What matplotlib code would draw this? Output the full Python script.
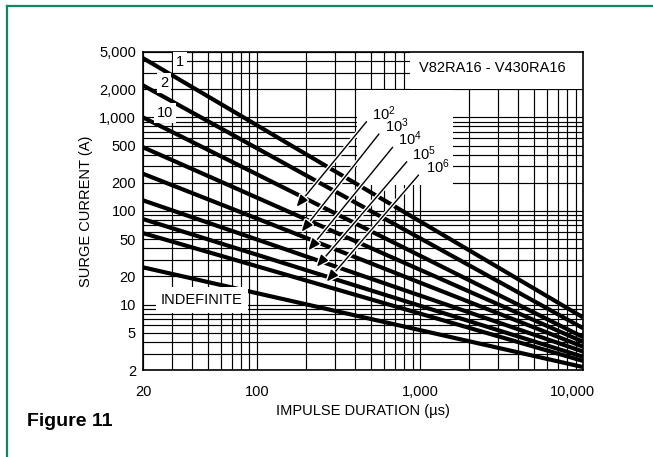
import numpy as np
import matplotlib
matplotlib.use("Agg")
import matplotlib.pyplot as plt
import matplotlib.patheffects as pe
from matplotlib.patches import Rectangle
from matplotlib.lines import Line2D
from matplotlib.ticker import LogLocator, NullFormatter
from matplotlib.transforms import ScaledTranslation

plt.rcParams.update({"font.family": ["Liberation Sans", "DejaVu Sans"], "font.size": 10.5,
                     "mathtext.default": "regular"})

# pulse rating curves (straight on log-log): current at 20 us and at 10,000 us
CURVES = ["1", "2", "10", "10^2", "10^3", "10^4", "10^5", "10^6", "INDEFINITE"]
T_US = [20, 10000]
I_START = [4300, 2200, 1000, 480, 250, 130, 82, 58, 25]
I_END = [7.3, 5.6, 4.5, 4.0, 3.55, 3.15, 2.77, 2.5, 2.15]
XTICKS = [20, 100, 1000, 10000]
XLABELS = ["20", "100", "1,000", "10,000"]
YTICKS = [2, 5, 10, 20, 50, 100, 200, 500, 1000, 2000, 5000]
YLABELS = ["2", "5", "10", "20", "50", "100", "200", "500", "1,000", "2,000", "5,000"]

W, H = 653, 457
fig = plt.figure(figsize=(W/100, H/100), dpi=100)
ax = fig.add_axes([143/W, 1-370/H, 440/W, 318/H])
ax.set_xscale("log"); ax.set_yscale("log")
ax.set_xlim(20, 10000); ax.set_ylim(2, 5000)
ax.set_xticks(XTICKS, XLABELS); ax.set_yticks(YTICKS, YLABELS)
for a in (ax.xaxis, ax.yaxis):
    a.set_minor_locator(LogLocator(base=10, subs=np.arange(2, 10), numticks=100))
    a.set_minor_formatter(NullFormatter())
ax.tick_params(which="both", length=0)
ax.tick_params(axis="x", pad=11)
ax.tick_params(axis="y", pad=5)
ax.set_axisbelow(True)
ax.grid(True, which="both", color="black", lw=0.85)
for sp in ax.spines.values(): sp.set_linewidth(1.2)
lbl = ax.get_xticklabels()[-1]
lbl.set_transform(lbl.get_transform() + ScaledTranslation(-11/100, 0, fig.dpi_scale_trans))

# white label panels that cut the grid
ax.add_patch(Rectangle((0.486, 0.582), 0.219, 0.298, transform=ax.transAxes, fc="white", ec="none", zorder=1))
ax.add_patch(Rectangle((0.607, 0.884), 0.393, 0.116, transform=ax.transAxes, fc="white", ec="none", zorder=1))

for name, a, b in zip(CURVES, I_START, I_END):
    ax.plot(T_US, [a, b], color="black", lw=3, solid_capstyle="butt", zorder=2)

box = dict(fc="white", ec="none", pad=2)
ax.text(33.7, 3900, "1", ha="center", va="center", bbox=box, zorder=4)
ax.text(26.9, 2330, "2", ha="center", va="center", bbox=box, zorder=4)
ax.text(27.3, 1110, "10", ha="center", va="center", bbox=box, zorder=4)
ax.text(46, 11.2, "INDEFINITE", ha="center", va="center", bbox=dict(fc="white", ec="none", pad=4), zorder=4)
ax.text(2767, 3366, "V82RA16 - V430RA16", ha="center", va="center", zorder=4)

# cycle labels with arrows
labs = [(506, 938), (611, 703), (737, 507), (890, 350), (1090, 253)]
tails = [(470, 900), (560, 665), (680, 480), (830, 336), (980, 242)]
heads = [(175, 111), (188, 60), (207, 38), (233, 25.4), (268, 17.6)]
for name, lp, tp, hp in zip(CURVES[3:8], labs, tails, heads):
    ax.text(lp[0], lp[1], "$" + name + "$", ha="left", va="baseline", zorder=4)
    ax.annotate("", xy=hp, xytext=tp, zorder=3,
                arrowprops=dict(arrowstyle="-|>,head_length=0.7,head_width=0.28", mutation_scale=10,
                                color="black", lw=1, shrinkA=0, shrinkB=0,
                                path_effects=[pe.withStroke(linewidth=3, foreground="white")]))

ax.set_xlabel("IMPULSE DURATION (µs)")
ax.set_ylabel("SURGE CURRENT (A)")
ax.xaxis.set_label_coords(0.5, (370-404)/318)
ax.yaxis.set_label_coords((93-143)/440, 0.5)

fig.text(27/W, 1-422/H, "Figure 11", fontsize=14, fontweight="bold", va="center")
green = "#12875c"
fig.add_artist(Line2D([7/W, 7/W], [0, 1-6/H], transform=fig.transFigure, color=green, lw=1.6))
fig.add_artist(Line2D([7/W, 1], [1-6/H, 1-6/H], transform=fig.transFigure, color=green, lw=1.6))

fig.savefig("out.png", dpi=100)
